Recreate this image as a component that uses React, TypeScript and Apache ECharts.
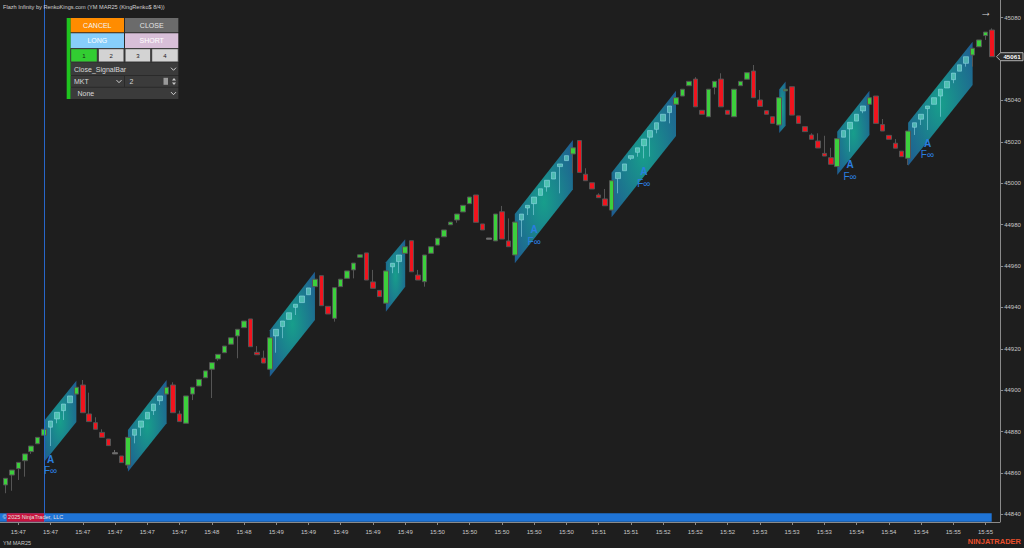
import React, { useEffect, useRef } from 'react';
import * as echarts from 'echarts';

const FONT = '"Liberation Sans", Arial, sans-serif';

// x-axis tick labels (one every 5 bars, starting at bar 2)
const tickTimes = ['15:47','15:47','15:47','15:47','15:47','15:47','15:48','15:48','15:49','15:49','15:49','15:49','15:49','15:50','15:50','15:50','15:50','15:50','15:51','15:51','15:52','15:52','15:52','15:53','15:53','15:53','15:54','15:54','15:54','15:55','15:55'];
const firstTickBar = 2;
const barsPerTick = 5;

const yTickValues = [44840, 44860, 44880, 44900, 44920, 44940, 44960, 44980, 45000, 45020, 45040, 45060, 45080];
const yMin = 44836.3;
const yMax = 45088.5;

const opens = [
  44854.2, 44859.0, 44862.1, 44865.9, 44870.3, 44874.1, 44878.2, 44882.1, 44886.1, 44890.1,
  44893.9, 44898.1, 44902.5, 44888.5, 44884.3, 44879.6, 44876.4, 44869.8, 44868.2, 44863.8,
  44878.2, 44882.1, 44886.1, 44890.1, 44894.9, 44898.1, 44902.5, 44888.5, 44884.0, 44898.1,
  44902.0, 44906.0, 44910.1, 44915.1, 44918.1, 44922.2, 44926.2, 44930.2, 44934.4, 44918.3,
  44915.5, 44910.1, 44926.2, 44930.7, 44934.2, 44940.0, 44942.3, 44946.1, 44950.0, 44955.3,
  44940.5, 44934.7, 44950.0, 44954.0, 44958.1, 44964.2, 44966.3, 44952.3, 44948.2, 44942.0,
  44959.6, 44962.1, 44966.1, 44972.2, 44955.6, 44952.4, 44966.1, 44970.1, 44974.1, 44979.9,
  44982.2, 44986.1, 44990.1, 44994.3, 44980.3, 44973.5, 44972.1, 44986.2, 44972.1, 44965.3,
  44982.2, 44988.0, 44990.1, 44994.1, 44998.2, 45002.0, 45008.0, 45010.9, 45014.1, 45020.6,
  45004.3, 45000.2, 44994.3, 44992.4, 44987.0, 45002.2, 45006.0, 45012.0, 45014.9, 45018.1,
  45022.2, 45026.0, 45030.0, 45034.1, 45038.1, 45042.1, 45047.1, 45050.3, 45035.2, 45032.1,
  45046.3, 45050.3, 45035.2, 45032.1, 45047.1, 45050.2, 45054.2, 45040.2, 45035.0, 45032.1,
  45028.1, 45044.6, 45046.6, 45032.5, 45027.3, 45023.3, 45020.4, 45014.4, 45012.3, 45008.0,
  45022.2, 45026.2, 45030.0, 45034.9, 45038.1, 45042.1, 45028.3, 45023.1, 45019.3, 45015.5,
  45012.0, 45027.0, 45030.9, 45036.0, 45038.1, 45042.1, 45046.0, 45050.0, 45054.1, 45057.9,
  45061.9, 45065.9, 45071.3, 45074.0,
];
const closes = [
  44857.4, 44861.4, 44865.1, 44869.2, 44873.0, 44877.2, 44881.1, 44885.1, 44889.3, 44893.3,
  44897.2, 44901.4, 44889.1, 44884.8, 44881.1, 44877.2, 44873.2, 44869.2, 44865.0, 44877.2,
  44881.1, 44885.1, 44889.3, 44893.3, 44897.2, 44901.4, 44889.1, 44884.8, 44897.2, 44901.4,
  44905.2, 44909.3, 44913.3, 44917.3, 44921.3, 44925.3, 44929.4, 44933.4, 44921.0, 44917.1,
  44913.1, 44925.3, 44929.4, 44933.4, 44937.4, 44941.5, 44945.5, 44949.4, 44953.6, 44940.8,
  44936.8, 44949.5, 44953.6, 44957.6, 44961.4, 44965.4, 44953.2, 44949.2, 44945.2, 44957.6,
  44961.3, 44965.3, 44969.3, 44957.2, 44953.2, 44965.3, 44969.3, 44973.4, 44977.4, 44981.2,
  44985.1, 44989.3, 44993.3, 44981.1, 44977.4, 44972.9, 44985.1, 44973.0, 44969.3, 44981.2,
  44985.1, 44989.3, 44993.3, 44997.3, 45001.4, 45005.3, 45009.3, 45013.3, 45017.1, 45005.2,
  45001.2, 44997.2, 44993.0, 44989.1, 45001.2, 45005.1, 45009.3, 45013.3, 45017.1, 45021.3,
  45025.4, 45029.2, 45033.3, 45037.3, 45041.3, 45045.4, 45049.2, 45036.9, 45033.3, 45045.4,
  45049.2, 45036.9, 45033.3, 45045.4, 45049.2, 45053.4, 45041.3, 45037.1, 45033.3, 45028.9,
  45041.3, 45045.4, 45032.9, 45028.9, 45024.9, 45021.2, 45017.0, 45013.1, 45009.1, 45021.5,
  45025.4, 45029.4, 45033.3, 45037.3, 45041.3, 45028.9, 45025.2, 45021.2, 45016.9, 45012.8,
  45025.2, 45029.2, 45033.3, 45037.3, 45041.3, 45045.4, 45049.2, 45053.2, 45057.2, 45061.1,
  45065.2, 45069.2, 45073.0, 45061.1,
];
const lows = [
  44850.2, 44851.4, 44856.6, 44858.2, 44869.2, 44874.1, 44878.2, 44873.0, 44884.0, 44885.6,
  44893.9, 44898.1, 44889.1, 44884.8, 44881.1, 44877.2, 44873.2, 44869.2, 44865.0, 44862.2,
  44874.3, 44877.9, 44886.1, 44888.0, 44892.8, 44898.1, 44889.1, 44884.8, 44884.0, 44895.2,
  44902.0, 44906.0, 44896.2, 44914.2, 44918.1, 44922.2, 44915.4, 44930.2, 44921.0, 44917.1,
  44913.1, 44909.7, 44918.1, 44925.1, 44934.2, 44936.3, 44942.3, 44946.1, 44950.0, 44940.8,
  44936.8, 44933.1, 44950.0, 44954.0, 44954.0, 44964.2, 44953.2, 44949.2, 44945.2, 44942.0,
  44956.5, 44956.5, 44966.1, 44957.2, 44953.2, 44950.0, 44966.1, 44970.1, 44974.1, 44979.9,
  44980.9, 44986.1, 44990.1, 44981.1, 44977.4, 44972.9, 44972.1, 44973.0, 44969.3, 44965.3,
  44974.1, 44984.6, 44984.6, 44994.1, 44995.9, 45002.0, 44995.1, 45010.9, 45004.8, 45005.2,
  45001.2, 44997.2, 44993.0, 44989.1, 44987.0, 44995.1, 45006.0, 45011.2, 45012.8, 45012.0,
  45012.8, 45024.1, 45030.0, 45028.9, 45038.1, 45042.1, 45047.1, 45036.9, 45033.3, 45032.1,
  45042.9, 45036.9, 45033.3, 45032.1, 45047.1, 45050.2, 45041.3, 45037.1, 45033.3, 45028.9,
  45028.1, 45044.6, 45032.9, 45028.9, 45024.9, 45021.2, 45017.0, 45013.1, 45009.1, 45008.0,
  45022.2, 45015.2, 45030.0, 45033.8, 45038.1, 45028.9, 45025.2, 45021.2, 45016.9, 45012.8,
  45008.8, 45023.3, 45028.1, 45025.7, 45038.1, 45032.1, 45046.0, 45048.3, 45054.1, 45056.3,
  45056.3, 45065.9, 45069.2, 45061.1,
];
const highs = [
  44857.4, 44861.4, 44865.1, 44869.2, 44873.0, 44877.2, 44881.1, 44885.1, 44889.3, 44893.3,
  44897.2, 44901.4, 44904.9, 44898.8, 44886.9, 44881.1, 44876.4, 44871.1, 44868.2, 44877.2,
  44881.1, 44885.1, 44889.3, 44893.3, 44897.2, 44901.4, 44903.8, 44890.1, 44897.2, 44901.4,
  44905.2, 44909.3, 44913.3, 44917.3, 44921.3, 44925.3, 44929.4, 44933.4, 44934.4, 44921.3,
  44919.1, 44925.3, 44929.4, 44933.4, 44937.4, 44941.5, 44945.5, 44949.4, 44953.6, 44955.3,
  44940.5, 44949.5, 44953.6, 44957.6, 44961.4, 44965.4, 44966.3, 44958.1, 44948.2, 44957.6,
  44961.3, 44965.3, 44969.3, 44972.2, 44958.1, 44965.3, 44969.3, 44973.4, 44977.4, 44981.2,
  44985.1, 44989.3, 44993.3, 44994.3, 44980.3, 44973.5, 44985.1, 44989.0, 44983.0, 44981.2,
  44985.1, 44989.3, 44993.3, 44997.3, 45001.4, 45005.3, 45009.3, 45013.3, 45017.1, 45020.6,
  45007.2, 45000.2, 44995.1, 44997.2, 45001.2, 45005.1, 45009.3, 45013.3, 45017.1, 45021.3,
  45025.4, 45029.2, 45033.3, 45037.3, 45041.3, 45045.4, 45049.2, 45051.2, 45035.2, 45045.4,
  45049.2, 45053.1, 45035.2, 45045.4, 45049.2, 45053.4, 45057.1, 45045.0, 45035.0, 45032.1,
  45041.3, 45045.4, 45046.6, 45032.5, 45027.3, 45024.1, 45024.1, 45022.9, 45017.1, 45021.5,
  45025.4, 45029.4, 45033.3, 45037.3, 45041.3, 45042.1, 45031.0, 45023.1, 45021.3, 45015.5,
  45025.2, 45029.2, 45033.3, 45037.3, 45041.3, 45045.4, 45049.2, 45053.2, 45057.2, 45061.1,
  45065.2, 45069.2, 45073.0, 45074.8,
];

// Flazh zones (parallelograms): start/end bar and price bounds at each end
const zoneStart = [6, 19, 41, 59, 79, 94, 120, 129, 140];
const zoneEnd = [11, 25, 48, 62, 88, 104, 121, 134, 150];
const zoneStartLow = [44865.3, 44860.6, 44906.5, 44937.9, 44961.3, 44983.5, 45024.2, 45003.9, 45008.4];
const zoneStartHigh = [44885.2, 44880.7, 44929.0, 44961.8, 44985.1, 45005.0, 45045.3, 45024.9, 45029.2];
const zoneEndLow = [44884.6, 44884.0, 44933.9, 44950.0, 44997.0, 45022.8, 45027.8, 45023.3, 45047.4];
const zoneEndHigh = [44904.5, 44904.9, 44957.2, 44972.9, 45020.8, 45044.7, 45049.1, 45044.7, 45068.3];

// "A / F∞" signal markers
const signalBars = [7, 82, 99, 131, 143];
const signalPrices = [44866.6, 44977.4, 45005.5, 45008.8, 45019.3];

const markerBar = 6;
const dojiBars = [17, 75];

const isTick = (i: number) => i >= firstTickBar && (i - firstTickBar) % barsPerTick === 0;
const categories = opens.map((_, i) => (isTick(i) ? tickTimes[(i - firstTickBar) / barsPerTick] : ''));

const inZone = (i: number) => zoneStart.some((s, k) => i > s && i < zoneEnd[k]);

export default function App() {
  const ref = useRef<HTMLDivElement>(null);

  useEffect(() => {
    const chart = echarts.init(ref.current!, null, { renderer: 'svg' });

    const lastClose = closes[closes.length - 1];
    // the current-price box hides the axis label it would overlap
    const yLabelValues = yTickValues.filter((v) => Math.abs(v - lastClose) > 5);

    const zoneCandle = {
      color: 'rgba(120,235,205,0.55)',
      color0: 'rgba(120,235,205,0.55)',
      borderColor: 'rgba(150,220,235,0.55)',
      borderColor0: 'rgba(150,220,235,0.55)',
    };
    const dojiStyle = { color: '#7a7a7a', color0: '#7a7a7a', borderColor: '#6a6a6a', borderColor0: '#6a6a6a' };

    const candleData = opens.map((o, i) => {
      const item: any = { value: [o, closes[i], lows[i], highs[i]] };
      if (dojiBars.includes(i)) item.itemStyle = dojiStyle;
      else if (inZone(i)) item.itemStyle = zoneCandle;
      return item;
    });

    const zoneData = zoneStart.map((s, k) => [s, zoneEnd[k], zoneStartLow[k], zoneStartHigh[k], zoneEndLow[k], zoneEndHigh[k]]);
    const signalData = signalBars.map((b, k) => [b, signalPrices[k]]);

    const axisGray = '#8a8a8a';
    const labelGray = '#c8c8c8';

    chart.setOption({
      animation: false,
      backgroundColor: '#1e1e1e',
      grid: { left: 2.2, right: 28.8, top: 0, bottom: 26, containLabel: false },
      xAxis: {
        type: 'category',
        data: categories,
        boundaryGap: true,
        axisLine: { show: false },
        axisTick: { show: true, interval: (i: number) => isTick(i), alignWithLabel: true, length: 3, lineStyle: { color: axisGray } },
        axisLabel: { interval: (i: number) => isTick(i), color: labelGray, fontSize: 6, margin: 7, fontFamily: FONT },
        splitLine: { show: false },
      },
      yAxis: {
        type: 'value',
        position: 'right',
        offset: 5,
        min: yMin,
        max: yMax,
        axisLine: { show: true, lineStyle: { color: axisGray } },
        axisTick: { show: true, length: 3, customValues: yLabelValues, lineStyle: { color: axisGray } },
        axisLabel: { customValues: yLabelValues, color: labelGray, fontSize: 6, margin: 4, fontFamily: FONT, formatter: (v: number) => String(v) },
        splitLine: { show: false },
      },
      series: [
        {
          type: 'custom',
          z: 1,
          data: zoneData,
          encode: { x: [0, 1], y: [2, 3, 4, 5] },
          silent: true,
          renderItem: (params: any, api: any) => {
            const s = api.value(0);
            const e = api.value(1);
            const p1 = api.coord([s, api.value(3)]);
            const p2 = api.coord([e, api.value(5)]);
            const p3 = api.coord([e, api.value(4)]);
            const p4 = api.coord([s, api.value(2)]);
            return {
              type: 'polygon',
              shape: { points: [p1, p2, p3, p4] },
              style: {
                fill: new echarts.graphic.RadialGradient(0.5, 0.5, 0.75, [
                  { offset: 0, color: '#17a591' },
                  { offset: 1, color: '#205a98' },
                ]),
                opacity: 0.95,
              },
            };
          },
        },
        {
          type: 'candlestick',
          z: 3,
          barWidth: 5,
          data: candleData,
          itemStyle: {
            color: '#3ccf3c',
            color0: '#f0141e',
            borderColor: '#555555',
            borderColor0: '#555555',
            borderWidth: 1,
          },
          markLine: {
            silent: true,
            symbol: ['none', 'none'],
            label: { show: false },
            lineStyle: { color: '#2866c8', width: 1, type: 'solid' },
            data: [{ xAxis: markerBar }],
          },
        },
        {
          type: 'custom',
          z: 5,
          data: signalData,
          encode: { x: 0, y: 1 },
          silent: true,
          renderItem: (params: any, api: any) => {
            const p = api.coord([api.value(0), api.value(1)]);
            return {
              type: 'group',
              children: [
                { type: 'text', x: p[0], y: p[1], style: { text: 'A', fill: '#2b7fe0', font: `bold 10px ${FONT}`, align: 'center', verticalAlign: 'middle' } },
                { type: 'text', x: p[0], y: p[1] + 11.5, style: { text: 'F∞', fill: '#2b7fe0', font: `10px ${FONT}`, align: 'center', verticalAlign: 'middle' } },
              ],
            };
          },
        },
      ],
    });

    const py = chart.convertToPixel({ yAxisIndex: 0 }, lastClose) as number;
    const mx = chart.convertToPixel({ xAxisIndex: 0 }, markerBar) as number;

    const txt = (x: number, y: number, text: string, size: number, fill: string, align = 'left', weight = 'normal') => ({
      type: 'text', x, y, z: 110,
      style: { text, fill, font: `${weight} ${size}px ${FONT}`, align, verticalAlign: 'middle' },
    });
    const rect = (x: number, y: number, w: number, h: number, fill: string, stroke?: string) => ({
      type: 'rect', z: 100, shape: { x, y, width: w, height: h },
      style: { fill, stroke: stroke || null, lineWidth: stroke ? 1 : 0 },
    });
    const chevron = (cx: number, cy: number) => ({
      type: 'polyline', z: 110,
      shape: { points: [[cx - 2.5, cy - 1.3], [cx, cy + 1.3], [cx + 2.5, cy - 1.3]] },
      style: { stroke: '#d0d0d0', lineWidth: 1, fill: null },
    });

    chart.setOption({
      graphic: [
        txt(3, 6.5, 'Flazh Infinity by RenkoKings.com (YM MAR25 (KingRenko$ 8/4))', 5.6, '#d0d0d0'),
        txt(986, 11.5, '→', 12, '#d8d8d8', 'center'),
        // bottom bar
        rect(0, 513.3, 991.7, 8.4, '#1f74d6'),
        rect(6.7, 513.3, mx - 6.7, 8.4, '#c8143c'),
        txt(2.5, 516.5, '© 2025 NinjaTrader, LLC', 5.5, '#e0e0e0'),
        { type: 'line', z: 100, shape: { x1: 0, y1: 522.5, x2: 1000, y2: 522.5 }, style: { stroke: axisGray, lineWidth: 1 } },
        txt(3, 543, 'YM MAR25', 5.5, '#c8c8c8'),
        txt(1021, 541.5, 'NINJATRADER', 7.5, '#e84e2c', 'right', 'bold'),
        // current price box
        {
          type: 'polygon', z: 100,
          shape: { points: [[996.5, py], [1000.5, py - 4], [1023, py - 4], [1023, py + 4], [1000.5, py + 4]] },
          style: { fill: '#2c2c2c', stroke: '#b0b0b0', lineWidth: 1 },
        },
        txt(1012, py, String(Math.round(lastClose)), 6.2, '#ffffff', 'center', 'bold'),
        // control panel
        rect(66.7, 18, 111.6, 81, '#2a2a2a'),
        rect(66.7, 18, 4, 81, '#1fc41f'),
        rect(70.7, 18, 53.3, 14.3, '#ff8c00'),
        txt(97.3, 25.3, 'CANCEL', 7, '#f4f4f4', 'center'),
        rect(125, 18, 53.3, 14.3, '#6b6b6b'),
        txt(151.7, 25.3, 'CLOSE', 7, '#e6e6e6', 'center'),
        rect(70.7, 33.3, 53.3, 14.7, '#87cefa'),
        txt(97.3, 40.7, 'LONG', 7, '#ffffff', 'center'),
        rect(125, 33.3, 53.3, 14.7, '#d8bfd8'),
        txt(151.7, 40.7, 'SHORT', 7, '#ffffff', 'center'),
        rect(70.7, 48.7, 26.6, 13.3, '#32cd32', '#3a3a3a'),
        txt(84, 55.5, '1', 6, '#1a1a1a', 'center'),
        rect(98.3, 48.7, 25.7, 13.3, '#d3d3d3', '#3a3a3a'),
        txt(111.2, 55.5, '2', 6, '#1a1a1a', 'center'),
        rect(125, 48.7, 25.7, 13.3, '#d3d3d3', '#3a3a3a'),
        txt(137.9, 55.5, '3', 6, '#1a1a1a', 'center'),
        rect(151.7, 48.7, 26.6, 13.3, '#d3d3d3', '#3a3a3a'),
        txt(165, 55.5, '4', 6, '#1a1a1a', 'center'),
        rect(70.7, 62.7, 107.6, 12.3, '#3b3b3b'),
        txt(74, 69, 'Close_SignalBar', 7, '#d8d8d8'),
        chevron(173.5, 69),
        rect(70.7, 76, 53.3, 10.7, '#3b3b3b'),
        txt(74, 81.4, 'MKT', 7, '#d8d8d8'),
        chevron(119, 81.4),
        rect(125, 76, 53.3, 10.7, '#3b3b3b'),
        txt(129.5, 81.4, '2', 7, '#d8d8d8'),
        rect(163.5, 77.8, 4.5, 7, '#9a9a9a'),
        { type: 'polygon', z: 110, shape: { points: [[172, 80.5], [174, 78], [176, 80.5]] }, style: { fill: '#c8c8c8' } },
        { type: 'polygon', z: 110, shape: { points: [[172, 82.5], [174, 85], [176, 82.5]] }, style: { fill: '#c8c8c8' } },
        rect(70.7, 87.7, 107.6, 11.3, '#3b3b3b'),
        txt(77.5, 93.4, 'None', 7, '#d8d8d8'),
        chevron(173.5, 93.4),
      ],
    });

    return () => chart.dispose();
  }, []);

  return <div ref={ref} style={{ position: 'fixed', left: 0, top: 0, width: 1024, height: 548 }} />;
}
